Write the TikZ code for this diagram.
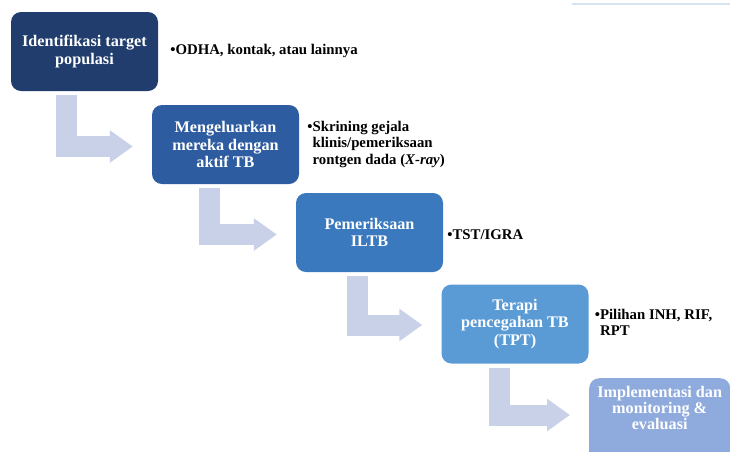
\documentclass[tikz,border=0pt]{standalone}
\usepackage{fontspec}
\setmainfont{Liberation Serif}
\usetikzlibrary{arrows.meta,calc,positioning}

\definecolor{biruA}{HTML}{203D6E}
\definecolor{biruB}{HTML}{2E5CA0}
\definecolor{biruC}{HTML}{3A79BE}
\definecolor{biruD}{HTML}{5A9BD5}
\definecolor{biruE}{HTML}{8FAADC}
\definecolor{panahbiru}{HTML}{C9D1E8}
\definecolor{garistipis}{HTML}{D6E3F1}

\tikzset{
  kotak/.style={rounded corners=10pt, minimum width=147pt, minimum height=79pt,
    inner sep=0pt, align=center, text=white,
    font=\fontsize{16.2}{17.5}\selectfont\bfseries},
  panah/.style={line width=21pt, panahbiru, -{Triangle[width=31pt,length=23pt]}},
  ket/.style={anchor=west, inner sep=0pt, align=left,
    font=\fontsize{14.8}{16.5}\selectfont\bfseries},
}
\newcommand{\butir}[1]{\textbullet\begin{tabular}[t]{@{}l@{}}#1\end{tabular}}

\begin{document}
\begin{tikzpicture}[x=1pt,y=-1pt]
  \useasboundingbox (0,0) rectangle (730,451);
  \clip (0,0) rectangle (730,451);
  \draw[garistipis, line width=1.5pt] (572,4) -- (730,4);
  % Tahapan (kotak)
  \node[kotak, fill=biruA] (k1) at (84.5,51.5) {Identifikasi target\\populasi};
  \node[kotak, fill=biruB] (k2) at (225.5,144.5) {Mengeluarkan\\mereka dengan\\aktif TB};
  \node[kotak, fill=biruC] (k3) at (369.5,232.5) {Pemeriksaan\\ILTB};
  \node[kotak, fill=biruD] (k4) at (515,324) {Terapi\\pencegahan TB\\(TPT)};
  \node[kotak, fill=biruE, minimum width=141pt, minimum height=95pt, anchor=north west] (k5) at (589,378) {};
  \node[kotak, font=\fontsize{16.2}{16}\selectfont\bfseries, minimum height=0pt] (t5)
    at ($(k5.north)+(0,30)$) {Implementasi dan\\monitoring \&\\evaluasi};
  % Panah siku antar tahap
  \draw[panah] ($(k1.south west)+(56,4)$) |- ($(k2.west)+(-19,2)$);
  \draw[panah] ($(k2.south west)+(58,4)$) |- ($(k3.west)+(-19,2)$);
  \draw[panah] ($(k3.south west)+(62,4)$) |- ($(k4.west)+(-19,1)$);
  \draw[panah] ($(k4.south west)+(58,4)$) |- ($(k5.north west)+(-19,37)$);
  % Keterangan di samping
  \node[ket, right=12pt of k1] (c1) {\butir{ODHA, kontak, atau lainnya}};
  \node[ket, right=8pt of k2] (c2) {\butir{Skrining gejala\\klinis/pemeriksaan\\rontgen dada (\textit{X-ray})}};
  \node[ket, right=4pt of k3, yshift=-4pt] (c3) {\butir{TST/IGRA}};
  \node[ket, right=6pt of k4] (c4) {\butir{Pilihan INH, RIF,\\RPT}};
\end{tikzpicture}
\end{document}
